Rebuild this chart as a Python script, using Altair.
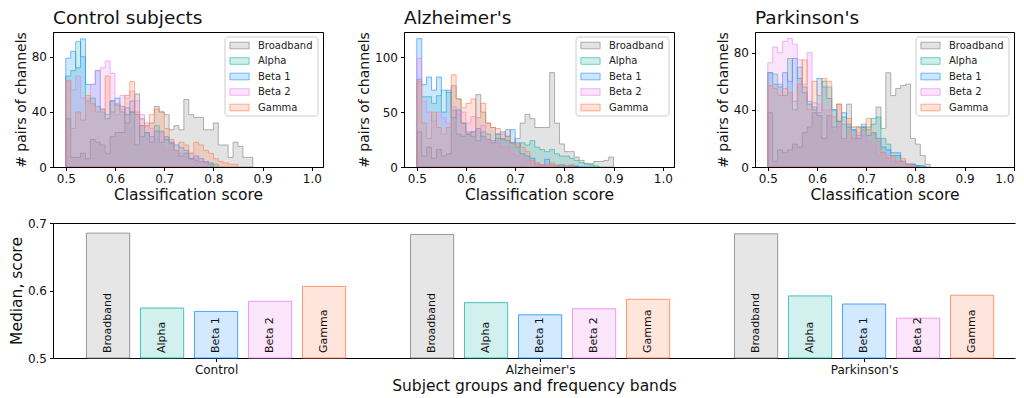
import json
import altair as alt
import pandas as pd

BANDS = ["Broadband", "Alpha", "Beta 1", "Beta 2", "Gamma"]
COLORS = ["gray", "lightseagreen", "dodgerblue", "violet", "coral"]
BIN_START = 0.5
BIN_WIDTH = 0.01

# Histogram counts, bins of 0.01 starting at 0.50
ctrl_broadband = [35, 7, 7, 10, 6, 20, 18, 16, 10, 22, 25, 25, 43, 40, 53, 35, 30, 32, 44, 40,
                  38, 27, 30, 27, 49, 38, 36, 36, 27, 27, 32, 16, 16, 7, 18, 15, 7, 7]
ctrl_alpha = [66, 70, 91, 80, 48, 50, 44, 40, 38, 48, 45, 40, 32, 40, 16, 30, 25, 18, 30, 26,
              20, 17, 12, 8, 10, 6, 5, 4, 3, 3, 2]
ctrl_beta1 = [79, 84, 72, 93, 60, 60, 70, 42, 35, 48, 50, 44, 38, 48, 38, 22, 25, 22, 26, 18,
              22, 18, 16, 14, 12, 6, 8, 6, 4, 2]
ctrl_beta2 = [62, 56, 66, 50, 50, 60, 70, 72, 77, 68, 38, 52, 50, 55, 48, 38, 30, 28, 20, 25,
              12, 18, 12, 10, 8, 10, 6, 4, 3]
ctrl_gamma = [63, 28, 40, 34, 52, 46, 40, 42, 66, 40, 46, 42, 52, 62, 40, 30, 32, 38, 42, 40,
              28, 20, 12, 18, 16, 10, 18, 16, 12, 10, 6, 4, 3, 2, 2]

alz_broadband = [32, 10, 18, 8, 16, 10, 12, 74, 62, 40, 30, 28, 66, 50, 40, 36, 30, 26, 34, 22,
                 26, 40, 48, 44, 36, 36, 36, 86, 40, 21, 14, 14, 9, 6, 3, 3, 5, 5, 6, 9]
alz_alpha = [80, 64, 64, 58, 65, 70, 68, 52, 30, 28, 30, 32, 24, 32, 30, 24, 26, 25, 24, 22,
             18, 22, 20, 24, 18, 16, 14, 16, 12, 10, 10, 8, 6, 4, 3, 2, 1]
alz_beta1 = [117, 75, 82, 70, 82, 50, 70, 45, 52, 40, 32, 32, 35, 28, 25, 22, 30, 32, 28, 34,
             22, 12, 10, 8, 2, 2, 7, 2, 1, 2, 1, 1, 1]
alz_beta2 = [99, 60, 50, 42, 50, 45, 40, 55, 48, 50, 40, 46, 35, 38, 25, 22, 22, 18, 18, 12,
             10, 8, 6, 4, 3, 2, 1, 1]
alz_gamma = [78, 40, 26, 50, 36, 30, 36, 84, 62, 54, 58, 62, 45, 58, 40, 36, 35, 30, 28, 22,
             20, 18, 14, 6, 4, 2, 2, 4, 2, 1, 1, 2]

park_broadband = [38, 4, 12, 10, 12, 16, 14, 24, 28, 38, 36, 20, 36, 28, 44, 20, 44, 28, 28, 28,
                  26, 30, 42, 27, 66, 50, 55, 57, 58, 20, 16, 8, 2]
park_alpha = [66, 65, 58, 50, 76, 40, 70, 56, 46, 42, 38, 60, 56, 40, 32, 35, 30, 26, 22, 30,
              28, 34, 35, 20, 16, 8, 8, 4, 2, 2, 1, 1]
park_beta1 = [66, 58, 56, 66, 60, 76, 62, 52, 44, 40, 62, 56, 48, 40, 32, 38, 28, 26, 20, 28,
              22, 24, 20, 14, 12, 10, 10, 4, 2, 2, 1]
park_beta2 = [73, 84, 80, 88, 90, 86, 75, 58, 80, 45, 44, 40, 40, 25, 28, 20, 18, 22, 24, 22,
              18, 16, 8, 10, 8, 4, 3, 4, 2, 1]
park_gamma = [57, 55, 50, 55, 52, 46, 58, 75, 40, 60, 50, 62, 60, 35, 44, 30, 34, 20, 28, 26,
              34, 24, 18, 10, 6, 8, 4, 6, 2, 1]

# Median classification scores per group and band
GROUPS = ["Control", "Alzheimer's", "Parkinson's"]
ctrl_medians = [0.685, 0.574, 0.569, 0.584, 0.606]
alz_medians = [0.683, 0.582, 0.564, 0.573, 0.587]
park_medians = [0.684, 0.592, 0.580, 0.559, 0.593]

FONT = "DejaVu Sans"
PANEL_W, PANEL_H = 270, 135
PX_PER_UNIT = 492  # pixels per classification-score unit
color_scale = alt.Scale(domain=BANDS, range=COLORS)


def hist_frame(series):
    rows = []
    for band, counts in zip(BANDS, series):
        for i, c in enumerate(counts):
            rows.append({"band": band, "x": round(BIN_START + i * BIN_WIDTH, 4), "count": c})
        rows.append({"band": band, "x": round(BIN_START + len(counts) * BIN_WIDTH, 4), "count": 0})
    return pd.DataFrame(rows)


legend_df = pd.DataFrame({"band": BANDS})
LEG_W, LEG_H, LEG_OFF = 93, 79, 5
ROW_STEP = 15.5
SWATCH_PATH = "M-1.6,-0.55H1.6V0.55H-1.6Z"


def legend_layers(panel_w):
    x0 = panel_w - LEG_OFF - LEG_W
    first = LEG_OFF + 8.5
    row_scale = alt.Scale(type="point", domain=BANDS, padding=0,
                          range=[first, first + ROW_STEP * (len(BANDS) - 1)])
    box = alt.Chart(pd.DataFrame({"k": [0]})).mark_rect(
        fill="white", fillOpacity=0.8, stroke="#cccccc", strokeWidth=1, cornerRadius=3
    ).encode(
        x=alt.value(x0), x2=alt.value(x0 + LEG_W),
        y=alt.value(LEG_OFF), y2=alt.value(LEG_OFF + LEG_H),
    )
    swatch = alt.Chart(legend_df).mark_point(
        shape=SWATCH_PATH, size=144, filled=False, strokeWidth=1, strokeOpacity=0.6,
        fillOpacity=0.22, opacity=1
    ).encode(
        x=alt.value(x0 + 14.5),
        y=alt.Y("band:N", scale=row_scale, axis=None),
        stroke=alt.Stroke("band:N", scale=color_scale, legend=None),
        fill=alt.Fill("band:N", scale=color_scale, legend=None),
    )
    text = alt.Chart(legend_df).mark_text(
        align="left", baseline="middle", fontSize=10, font=FONT, color="#222222"
    ).encode(
        x=alt.value(x0 + 33),
        y=alt.Y("band:N", scale=row_scale, axis=None),
        text="band:N",
    )
    return [box, swatch, text]


def hist_panel(series, title, ymax, yticks, panel_w=PANEL_W, flush=False):
    df = hist_frame(series)
    xmin = 0.474
    xmax = xmin + panel_w / PX_PER_UNIT
    axis_kw = dict(values=[0.5, 0.6, 0.7, 0.8, 0.9, 1.0], format=".1f", title="Classification score")
    if flush:
        axis_kw["labelFlush"] = True
    area = alt.Chart(df).mark_area(
        interpolate="step-after", fillOpacity=0.22, strokeOpacity=0.6, strokeWidth=1, clip=True
    ).encode(
        x=alt.X("x:Q", scale=alt.Scale(domain=[xmin, xmax], nice=False, zero=False),
                axis=alt.Axis(**axis_kw)),
        y=alt.Y("count:Q", stack=None, scale=alt.Scale(domain=[0, ymax], nice=False),
                axis=alt.Axis(values=yticks, title="# pairs of channels", titleFontSize=14)),
        fill=alt.Fill("band:N", scale=color_scale, legend=None),
        stroke=alt.Stroke("band:N", scale=color_scale, legend=None),
    )
    return alt.layer(area, *legend_layers(panel_w), title=alt.Title(title, frame="group")).resolve_scale(
        y="independent"
    ).properties(width=panel_w, height=PANEL_H)


p1 = hist_panel([ctrl_broadband, ctrl_alpha, ctrl_beta1, ctrl_beta2, ctrl_gamma],
                "Control subjects", 98, [0, 40, 80])
p2 = hist_panel([alz_broadband, alz_alpha, alz_beta1, alz_beta2, alz_gamma],
                "Alzheimer's", 123, [0, 50, 100])
p3 = hist_panel([park_broadband, park_alpha, park_beta1, park_beta2, park_gamma],
                "Parkinson's", 94.5, [0, 40, 80], panel_w=259, flush=True)

top = alt.hconcat(p1, p2, p3, spacing=81, bounds="flush")

# bar chart data
bar_rows = []
for gi, (g, meds) in enumerate(zip(GROUPS, [ctrl_medians, alz_medians, park_medians])):
    for bi, (b, m) in enumerate(zip(BANDS, meds)):
        pos = gi * (len(BANDS) + 1) + bi
        bar_rows.append({"group": g, "band": b, "median": m, "pos": pos,
                         "x0": pos - 0.4, "x1": pos + 0.4})
bar_df = pd.DataFrame(bar_rows)
group_centers = [gi * (len(BANDS) + 1) + (len(BANDS) - 1) / 2 for gi in range(len(GROUPS))]
label_expr = f"{json.dumps(GROUPS)}[floor(datum.value / {len(BANDS) + 1})]"

BAR_W = 962
BAR_PX_PER_POS = 54
xscale = alt.Scale(domain=[-1.02, -1.02 + BAR_W / BAR_PX_PER_POS], nice=False, zero=False)
bars = alt.Chart(bar_df).mark_bar(fillOpacity=0.2, strokeOpacity=0.8, strokeWidth=1).encode(
    x=alt.X("x0:Q", scale=xscale,
            axis=alt.Axis(values=group_centers, labelExpr=label_expr,
                          title="Subject groups and frequency bands")),
    x2="x1:Q",
    y=alt.Y("median:Q", scale=alt.Scale(domain=[0.5, 0.7], nice=False, zero=False),
            axis=alt.Axis(values=[0.5, 0.6, 0.7], format=".1f", title="Median, score")),
    y2=alt.datum(0.5),
    fill=alt.Fill("band:N", scale=color_scale, legend=None),
    stroke=alt.Stroke("band:N", scale=color_scale, legend=None),
)
labels = alt.Chart(bar_df).mark_text(
    angle=270, align="left", baseline="middle", dx=5, fontSize=11, color="#111111", font=FONT
).encode(
    x=alt.X("pos:Q", scale=xscale,
            axis=alt.Axis(orient="top", labels=False, ticks=False, title=None)),
    y=alt.datum(0.5),
    text="band:N",
)
bottom = alt.layer(bars, labels).resolve_axis(x="independent").properties(
    width=BAR_W, height=PANEL_H, view=alt.ViewBackground(stroke="transparent")
)

chart = alt.vconcat(top, bottom, spacing=12).properties(
    padding={"left": 0, "top": 0, "right": 0, "bottom": 0}
).configure(font=FONT).configure_view(
    stroke="black", strokeWidth=1
).configure_axis(
    grid=False, domainColor="black", tickColor="black", labelColor="#111111",
    titleColor="#111111", labelFontSize=12, titleFontSize=15.5, titleFontWeight="normal",
    labelFont=FONT, titleFont=FONT, tickSize=3.5, labelPadding=3, titlePadding=3,
    domainWidth=1, tickWidth=1
).configure_title(
    fontSize=18.5, fontWeight="normal", anchor="start", color="#111111", offset=4, font=FONT
)

chart.save("out.html", embed_options={"renderer": "svg", "actions": False})
